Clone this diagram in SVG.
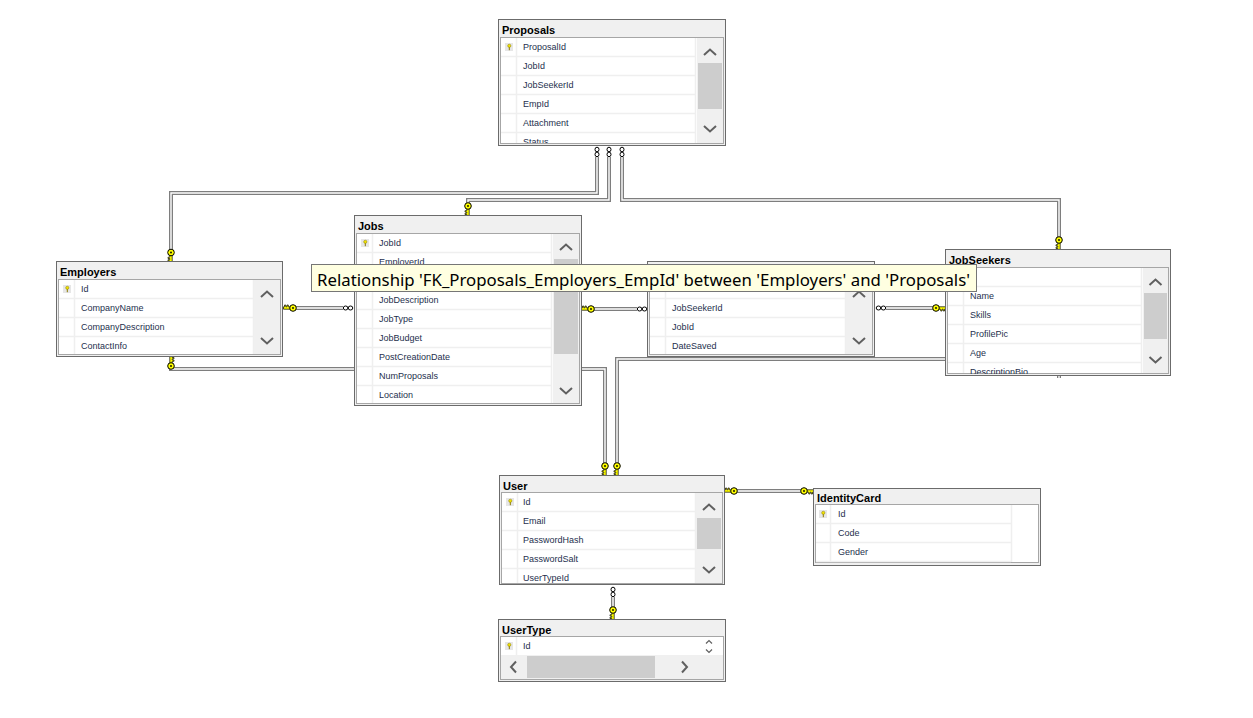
<svg xmlns="http://www.w3.org/2000/svg" xmlns:xlink="http://www.w3.org/1999/xlink" width="1253" height="718" viewBox="0 0 1253 718">
<style>
.frame{fill:#f0f0f0;stroke:#6b6b6b;stroke-width:1}
.grid{fill:#fff;stroke:#a6a6a6;stroke-width:1}
.title{font-family:"Liberation Sans",Arial,sans-serif;font-weight:bold;font-size:11px;fill:#000}
.cell{font-family:"Liberation Sans",Arial,sans-serif;font-size:9px;fill:#1e2f4d}
.rl{fill:none;stroke:#efefef;stroke-width:1.5}
.sb{fill:#f0f0f0}
.thumb{fill:#cdcdcd}
.arrow{fill:none;stroke:#606060;stroke-width:2}
.sarrow{fill:none;stroke:#606060;stroke-width:1.2}
.conn{fill:none;stroke:#7e7e7e;stroke-width:4}
.connin{fill:none;stroke:#fff;stroke-width:1.4}
.tip{font-family:"Noto Sans","Open Sans",sans-serif;font-size:15.5px;fill:#000}
</style>
<defs>
<g id="key">
<path d="M2,-1.2 H9.5 V1.2 H8.5 V3 H7.2 V1.2 H6 V3 H4.7 V1.2 H2 Z" fill="#ffff00" stroke="#000" stroke-width="0.7"/>
<circle r="3.3" fill="#ffff00" stroke="#000" stroke-width="1"/>
<circle r="0.9" fill="#000"/>
</g>
<g id="inf">
<ellipse cx="0" cy="2.5" rx="2" ry="2.3" fill="#fff" stroke="#000" stroke-width="1"/>
<ellipse cx="0" cy="7.4" rx="2" ry="2.3" fill="#fff" stroke="#000" stroke-width="1"/>
</g>
<g id="pk">
<rect x="0" y="0" width="8" height="8" fill="#e6e6e6"/>
<circle cx="4.3" cy="2.8" r="1.6" fill="#f2e400" stroke="#8a7a00" stroke-width="0.5"/>
<path d="M4.3,4.2 V7.2" stroke="#8a7a00" stroke-width="1"/>
</g>
<clipPath id="cpP"><rect x="501" y="38" width="194" height="105"/></clipPath>
<clipPath id="cpJS"><rect x="948" y="268" width="193" height="106"/></clipPath>
<clipPath id="cpU"><rect x="502" y="493" width="193" height="90"/></clipPath>
</defs>
<rect width="1253" height="718" fill="#fff"/>

<g id="connectors">
<path class="conn" d="M597,157 V193 H171 V252"/><path class="connin" d="M597,157 V193 H171 V252"/>
<path class="conn" d="M609,157 V200 H468 V206"/><path class="connin" d="M609,157 V200 H468 V206"/>
<path class="conn" d="M622,157 V200 H1059 V240"/><path class="connin" d="M622,157 V200 H1059 V240"/>
<path class="conn" d="M293,308 H343"/><path class="connin" d="M293,308 H343"/>
<path class="conn" d="M591,309 H637"/><path class="connin" d="M591,309 H637"/>
<path class="conn" d="M886,308 H936"/><path class="connin" d="M886,308 H936"/>
<path class="conn" d="M171,366 V369 H605 V466"/><path class="connin" d="M171,366 V369 H605 V466"/>
<path class="conn" d="M617,466 V359 H1059 V378"/><path class="connin" d="M617,466 V359 H1059 V378"/>
<path class="conn" d="M734,491 H804"/><path class="connin" d="M734,491 H804"/>
<path class="conn" d="M613,597 V610"/><path class="connin" d="M613,597 V610"/>
<use href="#inf" x="597" y="147"/>
<use href="#inf" x="609" y="147"/>
<use href="#inf" x="622" y="147"/>
<use href="#inf" transform="translate(353,308) rotate(90)"/>
<use href="#inf" transform="translate(647,309) rotate(90)"/>
<use href="#inf" transform="translate(876,308) rotate(-90)"/>
<use href="#inf" x="613" y="587"/>
<use href="#key" transform="translate(171,252.5) rotate(90)"/>
<use href="#key" transform="translate(468,206) rotate(90)"/>
<use href="#key" transform="translate(1059,240) rotate(90)"/>
<use href="#key" transform="translate(293,308) rotate(180)"/>
<use href="#key" transform="translate(591,309) rotate(180)"/>
<use href="#key" transform="translate(936,308)"/>
<use href="#key" transform="translate(171,366) rotate(-90)"/>
<use href="#key" transform="translate(605,466) rotate(90)"/>
<use href="#key" transform="translate(617,466) rotate(90)"/>
<use href="#key" transform="translate(734,491) rotate(180)"/>
<use href="#key" transform="translate(804,491)"/>
<use href="#key" transform="translate(613,610) rotate(90)"/>
</g>

<g id="proposals">
<rect class="frame" x="498.5" y="19.5" width="227" height="126"/>
<text class="title" x="502" y="34">Proposals</text>
<rect class="grid" x="500.5" y="37.5" width="223" height="106"/>
<rect class="sb" x="697" y="38" width="26" height="105"/>
<rect class="thumb" x="698" y="63" width="24" height="46"/>
<path class="arrow" d="M704,55 L710,49.5 L716,55"/>
<path class="arrow" d="M704,126 L710,131.5 L716,126"/>
<path class="rl" d="M501,56.5 H695 M501,75.5 H695 M501,94.5 H695 M501,113.5 H695 M501,132.5 H695 M516.5,38 V143 M695.5,38 V143"/>
<use href="#pk" x="505" y="43"/>
<g clip-path="url(#cpP)">
<text class="cell" x="523" y="50">ProposalId</text>
<text class="cell" x="523" y="69">JobId</text>
<text class="cell" x="523" y="88">JobSeekerId</text>
<text class="cell" x="523" y="107">EmpId</text>
<text class="cell" x="523" y="126">Attachment</text>
<text class="cell" x="523" y="145">Status</text>
</g>
</g>

<g id="employers">
<rect class="frame" x="56.5" y="261.5" width="226" height="95"/>
<text class="title" x="60" y="276">Employers</text>
<rect class="grid" x="58.5" y="279.5" width="222" height="75"/>
<rect class="sb" x="254" y="280" width="26" height="74"/>
<path class="arrow" d="M261,297 L267,291.5 L273,297"/>
<path class="arrow" d="M261,338 L267,343.5 L273,338"/>
<path class="rl" d="M59,298.5 H253 M59,317.5 H253 M59,336.5 H253 M74.5,280 V354 M253.5,280 V354"/>
<use href="#pk" x="63" y="285"/>
<text class="cell" x="81" y="292">Id</text>
<text class="cell" x="81" y="311">CompanyName</text>
<text class="cell" x="81" y="330">CompanyDescription</text>
<text class="cell" x="81" y="349">ContactInfo</text>
</g>

<g id="jobs">
<rect class="frame" x="354.5" y="215.5" width="227" height="190"/>
<text class="title" x="358" y="230">Jobs</text>
<rect class="grid" x="356.5" y="233.5" width="223" height="170"/>
<rect class="sb" x="553" y="234" width="26" height="169"/>
<rect class="thumb" x="554" y="259" width="24" height="95"/>
<path class="arrow" d="M560,250 L566,244.5 L572,250"/>
<path class="arrow" d="M560,388 L566,393.5 L572,388"/>
<path class="rl" d="M357,252.5 H551 M357,271.5 H551 M357,290.5 H551 M357,309.5 H551 M357,328.5 H551 M357,347.5 H551 M357,366.5 H551 M357,385.5 H551 M372.5,234 V403 M551.5,234 V403"/>
<use href="#pk" x="361" y="239"/>
<text class="cell" x="379" y="246">JobId</text>
<text class="cell" x="379" y="265">EmployerId</text>
<text class="cell" x="379" y="303">JobDescription</text>
<text class="cell" x="379" y="322">JobType</text>
<text class="cell" x="379" y="341">JobBudget</text>
<text class="cell" x="379" y="360">PostCreationDate</text>
<text class="cell" x="379" y="379">NumProposals</text>
<text class="cell" x="379" y="398">Location</text>
</g>

<g id="savedjobs">
<rect class="frame" x="647.5" y="261.5" width="227" height="95"/>
<rect class="grid" x="649.5" y="279.5" width="223" height="75"/>
<rect class="sb" x="846" y="280" width="26" height="74"/>
<path class="arrow" d="M853,297 L859,291.5 L865,297"/>
<path class="arrow" d="M853,338 L859,343.5 L865,338"/>
<path class="rl" d="M650,298.5 H845 M650,317.5 H845 M650,336.5 H845 M665.5,280 V354 M845.5,280 V354"/>
<text class="cell" x="672" y="311">JobSeekerId</text>
<text class="cell" x="672" y="330">JobId</text>
<text class="cell" x="672" y="349">DateSaved</text>
</g>

<g id="jobseekers">
<rect class="frame" x="945.5" y="249.5" width="225" height="126"/>
<text class="title" x="949" y="264">JobSeekers</text>
<rect class="grid" x="947.5" y="267.5" width="221" height="106"/>
<rect class="sb" x="1143" y="268" width="25" height="105"/>
<rect class="thumb" x="1144" y="293" width="23" height="46"/>
<path class="arrow" d="M1149.5,285 L1155.5,279.5 L1161.5,285"/>
<path class="arrow" d="M1149.5,357 L1155.5,362.5 L1161.5,357"/>
<path class="rl" d="M948,286.5 H1141 M948,305.5 H1141 M948,324.5 H1141 M948,343.5 H1141 M948,362.5 H1141 M963.5,268 V373 M1141.5,268 V373"/>
<g clip-path="url(#cpJS)">
<text class="cell" x="970" y="299">Name</text>
<text class="cell" x="970" y="318">Skills</text>
<text class="cell" x="970" y="337">ProfilePic</text>
<text class="cell" x="970" y="356">Age</text>
<text class="cell" x="970" y="375">DescriptionBio</text>
</g>
</g>

<g id="user">
<rect class="frame" x="499.5" y="475.5" width="225" height="109"/>
<text class="title" x="503" y="490">User</text>
<rect class="grid" x="501.5" y="492.5" width="221" height="91"/>
<rect class="sb" x="696" y="493" width="26" height="90"/>
<rect class="thumb" x="697" y="518" width="24" height="31"/>
<path class="arrow" d="M703,510 L709,504.5 L715,510"/>
<path class="arrow" d="M703,567 L709,572.5 L715,567"/>
<path class="rl" d="M502,511.5 H695 M502,530.5 H695 M502,549.5 H695 M502,568.5 H695 M517.5,493 V583 M695.5,493 V583"/>
<use href="#pk" x="506" y="498"/>
<g clip-path="url(#cpU)">
<text class="cell" x="523" y="505">Id</text>
<text class="cell" x="523" y="524">Email</text>
<text class="cell" x="523" y="543">PasswordHash</text>
<text class="cell" x="523" y="562">PasswordSalt</text>
<text class="cell" x="523" y="581">UserTypeId</text>
</g>
</g>

<g id="identitycard">
<rect class="frame" x="813.5" y="488.5" width="227" height="77"/>
<text class="title" x="817" y="502">IdentityCard</text>
<rect class="grid" x="815.5" y="504.5" width="223" height="58"/>
<path class="rl" d="M816,523.5 H1011 M816,542.5 H1011 M816,561.5 H1011 M830.5,505 V562 M1011.5,505 V562"/>
<use href="#pk" x="819" y="510"/>
<text class="cell" x="838" y="517">Id</text>
<text class="cell" x="838" y="536">Code</text>
<text class="cell" x="838" y="555">Gender</text>
</g>

<g id="usertype">
<rect class="frame" x="498.5" y="619.5" width="227" height="62"/>
<text class="title" x="502" y="634">UserType</text>
<rect class="grid" x="500.5" y="636.5" width="223" height="43"/>
<rect class="sb" x="501" y="655" width="222" height="24"/>
<rect class="thumb" x="527" y="656" width="128" height="22"/>
<path class="arrow" d="M516,661.5 L511,667 L516,672.5"/>
<path class="arrow" d="M682,661.5 L687,667 L682,672.5"/>
<path class="sarrow" d="M706,643.5 L709,640.5 L712,643.5"/>
<path class="sarrow" d="M706,649.5 L709,652.5 L712,649.5"/>
<path class="rl" d="M516.5,637 V655"/>
<use href="#pk" x="505" y="642"/>
<text class="cell" x="523" y="649">Id</text>
</g>

<g id="tooltip">
<rect x="311.5" y="264.5" width="665" height="27" fill="#ffffe1" stroke="#767676" stroke-width="1"/>
<text class="tip" x="317" y="285.5" textLength="653" lengthAdjust="spacingAndGlyphs">Relationship 'FK_Proposals_Employers_EmpId' between 'Employers' and 'Proposals'</text>
</g>
</svg>
